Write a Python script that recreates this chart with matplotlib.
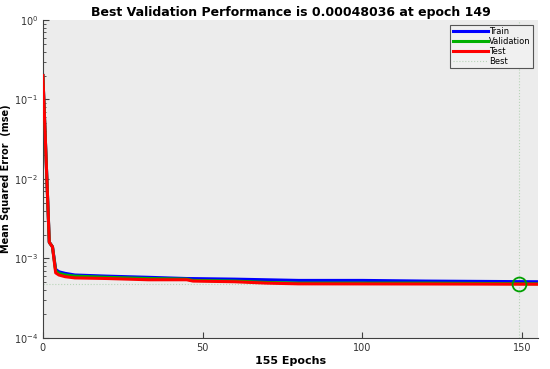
import matplotlib
matplotlib.use("Agg")
import matplotlib.pyplot as plt

# Epoch breakpoints and MSE values
train_epochs = [0, 1, 2, 3, 4, 5, 7, 10, 20, 33, 45, 60, 80, 100, 120, 155]
train_mse = [0.2, 0.018, 0.0016, 0.0014, 0.00073, 0.00068, 0.00065, 0.00062, 0.0006, 0.00058, 0.00056, 0.00055, 0.00053, 0.00053, 0.00052, 0.00051]

val_epochs = [0, 1, 2, 3, 4, 5, 7, 10, 20, 33, 45, 47, 60, 70, 80, 120, 155]
val_mse = [0.2, 0.018, 0.0016, 0.0014, 0.0007, 0.00065, 0.00062, 0.0006, 0.00058, 0.00056, 0.00055, 0.00053, 0.00052, 0.0005, 0.00049, 0.00049, 0.00048]

test_epochs = [0, 1, 2, 3, 4, 5, 7, 10, 20, 33, 45, 47, 60, 70, 80, 120, 155]
test_mse = [0.2, 0.018, 0.0016, 0.0014, 0.00066, 0.00062, 0.00059, 0.00057, 0.00056, 0.00054, 0.00054, 0.00052, 0.00051, 0.00049, 0.00048, 0.000478, 0.000475]

best_epoch = 149
best_perf = 0.00048036
total_epochs = 155

fig = plt.figure(figsize=(5.5, 3.69), dpi=100)
ax = fig.add_axes([0.078, 0.084, 0.900, 0.862])
ax.set_facecolor("#ececec")

ax.plot(train_epochs, train_mse, color="#0000ff", lw=2.2, label="Train", zorder=3)
ax.plot(val_epochs, val_mse, color="#00b000", lw=2.2, label="Validation", zorder=4)
ax.plot(test_epochs, test_mse, color="#ff0000", lw=2.2, label="Test", zorder=5)
ax.axhline(best_perf, color="#b8d4b8", lw=0.8, ls=":", label="Best", zorder=2)
ax.axvline(best_epoch, color="#b8d4b8", lw=0.8, ls=":", zorder=2)
ax.plot([best_epoch], [best_perf], marker="o", ms=10, mfc="none", mec="#00a000", mew=1.3, zorder=6)

ax.set_yscale("log")
ax.set_ylim(1e-4, 1e0)
ax.set_xlim(0, total_epochs)
ax.set_xticks([0, 50, 100, 150])

for s in ["top", "right"]:
    ax.spines[s].set_visible(False)
for s in ["left", "bottom"]:
    ax.spines[s].set_color("#404040")
    ax.spines[s].set_linewidth(0.8)

ax.tick_params(axis="both", which="both", direction="in", colors="#404040", labelsize=7, labelcolor="#333333")
ax.tick_params(which="major", length=4)
ax.tick_params(which="minor", length=2)

ax.set_title("Best Validation Performance is 0.00048036 at epoch 149", fontsize=9, fontweight="bold", pad=3)
ax.set_xlabel("155 Epochs", fontsize=8, fontweight="bold", labelpad=2)
ax.set_ylabel("Mean Squared Error  (mse)", fontsize=7, fontweight="bold", labelpad=2)

leg = ax.legend(loc="upper right", fontsize=6, frameon=True, fancybox=False,
                handlelength=4.2, handletextpad=0.2, borderpad=0.25, labelspacing=0.1,
                borderaxespad=0.6)
leg.get_frame().set_edgecolor("#555555")
leg.get_frame().set_facecolor("#f0f0f0")
leg.get_frame().set_linewidth(0.8)
leg.get_frame().set_alpha(1)

fig.savefig("out.png", dpi=100)
